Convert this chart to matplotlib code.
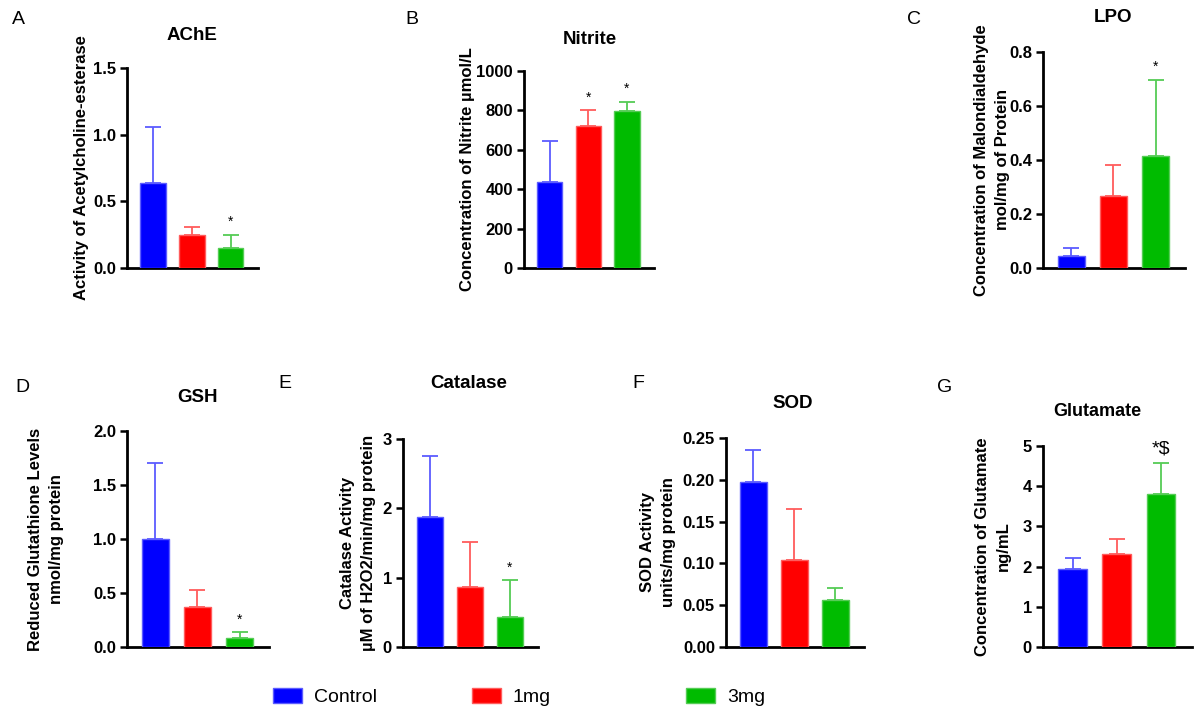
import numpy as np
import matplotlib
matplotlib.use('Agg')
import matplotlib.pyplot as plt
from matplotlib.patches import Patch

plt.rcParams['font.family'] = ['Liberation Sans', 'DejaVu Sans']

# 数据
groups = ['Control', '1mg', '3mg']
ache_mean = [0.64, 0.25, 0.15]
ache_err = [0.42, 0.06, 0.10]
nitrite_mean = [435, 720, 797]
nitrite_err = [210, 80, 48]
lpo_mean = [0.045, 0.265, 0.415]
lpo_err = [0.030, 0.117, 0.282]
gsh_mean = [1.00, 0.37, 0.08]
gsh_err = [0.70, 0.16, 0.06]
cat_mean = [1.88, 0.87, 0.43]
cat_err = [0.87, 0.64, 0.53]
sod_mean = [0.197, 0.104, 0.056]
sod_err = [0.039, 0.061, 0.014]
glu_mean = [1.95, 2.31, 3.81]
glu_err = [0.27, 0.37, 0.76]

ache_sig = ['', '', '*']
nitrite_sig = ['', '*', '*']
lpo_sig = ['', '', '*']
gsh_sig = ['', '', '*']
cat_sig = ['', '', '*']
sod_sig = ['', '', '']
glu_sig = ['', '', '*$']

# 颜色
fill_colors = ['#0000ff', '#ff0000', '#00bb00']
err_colors = ['#5c5cff', '#ff5c5c', '#55cc55']

W, H = 1200, 723
fig = plt.figure(figsize=(12, 7.23), dpi=100)


def bar_panel(box, title_xy, label_x, means, errs, sigs, title, ylabel, ymax, yticks, fmt,
              sig_size=10, title_size=13.5):
    x0, x1, ytop, ybot = box
    ax = fig.add_axes([x0 / W, 1 - ybot / H, (x1 - x0) / W, (ybot - ytop) / H])
    x = np.arange(len(means))
    for i in range(len(means)):
        ax.errorbar(x[i], means[i], yerr=[[0], [errs[i]]], fmt='none',
                    ecolor=err_colors[i], elinewidth=1.3, capsize=6, capthick=1.3, zorder=2)
        ax.bar(x[i], means[i], width=0.65, color=fill_colors[i],
               edgecolor=err_colors[i], linewidth=1, zorder=3)
        if sigs[i]:
            ax.annotate(sigs[i], (x[i], means[i] + errs[i]), xytext=(0, 4),
                        textcoords='offset points', ha='center', va='bottom',
                        fontsize=sig_size)
    ax.set_xlim(-0.67, 2.7)
    ax.set_ylim(0, ymax)
    ax.set_yticks(yticks)
    ax.set_yticklabels([fmt.format(v) for v in yticks], fontweight='bold', fontsize=12)
    ax.set_xticks([])
    for s in ['top', 'right']:
        ax.spines[s].set_visible(False)
    ax.spines['left'].set_linewidth(2)
    ax.spines['bottom'].set_linewidth(2)
    ax.tick_params(axis='y', width=1.8, length=5, pad=3)
    ax.set_ylabel(ylabel, fontweight='bold', fontsize=12, linespacing=1.55)
    ax.yaxis.label.set_va('center')
    ax.yaxis.set_label_coords((label_x - x0) / (x1 - x0), 0.5)
    fig.text(title_xy[0] / W, 1 - title_xy[1] / H, title, fontweight='bold',
             fontsize=title_size, ha='center', va='center')
    return ax


bar_panel((127, 258, 68, 268), (192, 35), 82, ache_mean, ache_err, ache_sig, 'AChE',
          'Activity of Acetylcholine-esterase', 1.5, [0, 0.5, 1.0, 1.5], '{:.1f}')

bar_panel((524, 654, 71, 268), (590, 40), 467, nitrite_mean, nitrite_err, nitrite_sig, 'Nitrite',
          'Concentration of Nitrite µmol/L', 1000, [0, 200, 400, 600, 800, 1000], '{:.0f}')

bar_panel((1043, 1185, 52, 268), (1113, 17), 992, lpo_mean, lpo_err, lpo_sig, 'LPO',
          'Concentration of Malondialdehyde\nmol/mg of Protein', 0.8, [0, 0.2, 0.4, 0.6, 0.8], '{:.1f}')

bar_panel((127, 269, 431, 647), (197, 397), 46, gsh_mean, gsh_err, gsh_sig, 'GSH',
          'Reduced Glutathione Levels\nnmol/mg protein', 2.0, [0, 0.5, 1.0, 1.5, 2.0], '{:.1f}')

bar_panel((403, 538, 439, 647), (469, 383), 358, cat_mean, cat_err, cat_sig, 'Catalase',
          'Catalase Activity\nµM of H2O2/min/mg protein', 3, [0, 1, 2, 3], '{:.0f}')

bar_panel((726, 864, 438, 647), (793, 403), 658, sod_mean, sod_err, sod_sig, 'SOD',
          'SOD Activity\nunits/mg protein', 0.25, [0, 0.05, 0.10, 0.15, 0.20, 0.25], '{:.2f}')

bar_panel((1043, 1192, 446, 647), (1097, 411), 993, glu_mean, glu_err, glu_sig, 'Glutamate',
          'Concentration of Glutamate\nng/mL', 5, [0, 1, 2, 3, 4, 5], '{:.0f}',
          sig_size=14, title_size=13)

# 面板字母
for lab, px, py in [('A', 12, 20), ('B', 405, 20), ('C', 907, 20), ('D', 15, 387),
                    ('E', 278, 384), ('F', 632, 384), ('G', 937, 388)]:
    fig.text(px / W, 1 - py / H, lab, fontsize=14, ha='left', va='center')

# 图例
for i, px in enumerate([273, 472, 686]):
    fig.legend(handles=[Patch(facecolor=fill_colors[i], edgecolor=err_colors[i])],
               labels=[groups[i]], loc='center left', bbox_to_anchor=(px / W, 1 - 697 / H),
               frameon=False, fontsize=14, handlelength=1.5, handleheight=0.8,
               handletextpad=0.6, borderpad=0, borderaxespad=0)

plt.savefig('out.png', dpi=100)
plt.close()
